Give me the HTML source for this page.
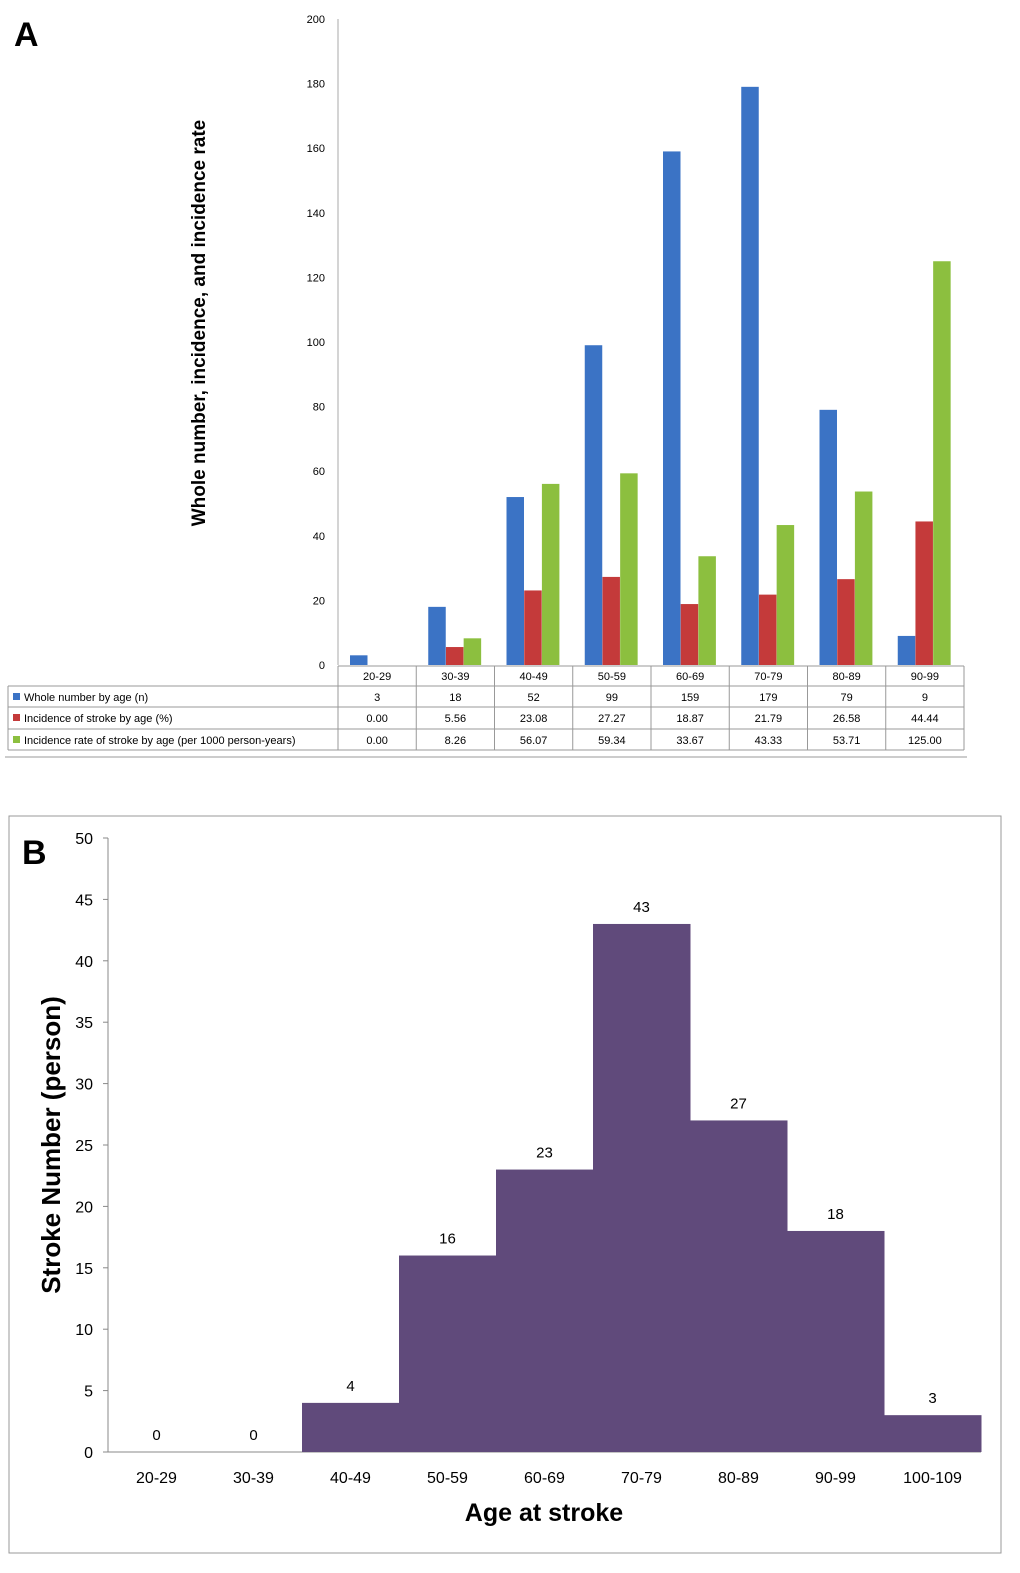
<!DOCTYPE html>
<html><head><meta charset="utf-8"><style>
html,body{margin:0;padding:0;background:#fff;}
svg{display:block;font-family:"Liberation Sans",sans-serif;}
</style></head><body>
<svg id="s" width="1020" height="1573" viewBox="0 0 1020 1573">
<text x="14" y="46" font-size="34" font-weight="bold">A</text>
<text x="22" y="864" font-size="34" font-weight="bold">B</text>
<text transform="translate(205,323) rotate(-90)" text-anchor="middle" font-size="19" font-weight="bold">Whole number, incidence, and incidence rate</text>
<line x1="338" y1="19" x2="338" y2="665" stroke="#aaa"/>
<line x1="5" y1="757" x2="967" y2="757" stroke="#999"/>
<rect x="9" y="816" width="992" height="737" fill="none" stroke="#999"/>
<line x1="108" y1="838" x2="108" y2="1452" stroke="#888"/>
<line x1="108" y1="1452" x2="981" y2="1452" stroke="#888"/>
<text transform="translate(60,1145) rotate(-90)" text-anchor="middle" font-size="26" font-weight="bold">Stroke Number (person)</text>
<text x="544" y="1521" text-anchor="middle" font-size="25" font-weight="bold">Age at stroke</text>
</svg>
<script>
const catsA=["20-29","30-39","40-49","50-59","60-69","70-79","80-89","90-99"];
const whole=[3,18,52,99,159,179,79,9];
const incid=[0.00,5.56,23.08,27.27,18.87,21.79,26.58,44.44];
const rate=[0.00,8.26,56.07,59.34,33.67,43.33,53.71,125.00];
const ticksA=[0,20,40,60,80,100,120,140,160,180,200];
const catsB=["20-29","30-39","40-49","50-59","60-69","70-79","80-89","90-99","100-109"];
const countsB=[0,0,4,16,23,43,27,18,3];
const ticksB=[0,5,10,15,20,25,30,35,40,45,50];
const NS="http://www.w3.org/2000/svg",s=document.getElementById('s');
function mk(t,a,txt){const e=document.createElementNS(NS,t);for(const k in a)e.setAttribute(k,a[k]);if(txt!==undefined)e.textContent=txt;s.appendChild(e);return e;}
// Panel A
const ax0=338,ax1=964,ay0=665,ay1=19;
const cw=(ax1-ax0)/catsA.length;
const yA=v=>ay0-(v/200)*(ay0-ay1);
ticksA.forEach(t=>{const e=mk('text',{x:325,y:yA(t)+4,'text-anchor':'end','font-size':11},t);

});
const series=[[whole,'#3b73c5','blue'],[incid,'#c43a3a','red'],[rate,'#8cbf3f','green']];
catsA.forEach((c,i)=>{series.forEach((sr,j)=>{const v=sr[0][i];if(v<=0)return;
const x=ax0+i*cw+12+j*17.7;
const r=mk('rect',{x:x,y:yA(v),width:17.5,height:ay0-yA(v),fill:sr[1]});

});});
// table
const rowsY=[666,686,707,729,750],tl=8;
for(let k=0;k<rowsY.length;k++){const l=mk('line',{x1:k==0?ax0:tl,y1:rowsY[k],x2:ax1,y2:rowsY[k],stroke:'#999'});

}
for(let i=0;i<=catsA.length;i++){const l=mk('line',{x1:ax0+i*cw,y1:666,x2:ax0+i*cw,y2:750,stroke:'#999'});

}
const lv=mk('line',{x1:tl,y1:686,x2:tl,y2:750,stroke:'#999'});


const labels=["Whole number by age (n)","Incidence of stroke by age (%)","Incidence rate of stroke by age (per 1000 person-years)"];
catsA.forEach((c,i)=>{const e=mk('text',{x:ax0+(i+.5)*cw,y:680,'text-anchor':'middle','font-size':11},c);

});
series.forEach((sr,j)=>{const yb=rowsY[j+1];
const sw=mk('rect',{x:13,y:yb+7,width:7,height:7,fill:sr[1]});


const t=mk('text',{x:24,y:yb+15,'font-size':11},labels[j]);


sr[0].forEach((v,i)=>{const txt=j==0?String(v):v.toFixed(2);
const e=mk('text',{x:ax0+(i+.5)*cw,y:yb+15,'text-anchor':'middle','font-size':11},txt);

});});
// Panel B
const bx0=108,bx1=981,by0=1452,by1=838;
const bw=(bx1-bx0)/catsB.length;
const yB=v=>by0-(v/50)*(by0-by1);
ticksB.forEach(t=>{const y=yB(t);
const tk=mk('line',{x1:103,y1:y,x2:108,y2:y,stroke:'#888'});


const e=mk('text',{x:93,y:y+6,'text-anchor':'end','font-size':16},t);

});
catsB.forEach((c,i)=>{const v=countsB[i],x=bx0+i*bw;
if(v>0){const r=mk('rect',{x:x,y:yB(v),width:bw+0.5,height:by0-yB(v),fill:'#604a7b'});

}
const vl=mk('text',{x:x+bw/2,y:yB(v)-12,'text-anchor':'middle','font-size':15},v);


const e=mk('text',{x:x+bw/2,y:1483,'text-anchor':'middle','font-size':16},c);

});
</script>
</body></html>
